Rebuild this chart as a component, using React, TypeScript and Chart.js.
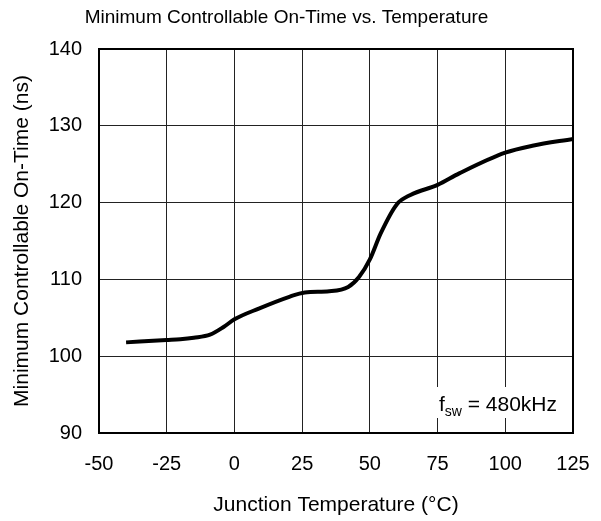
import React, { useEffect, useRef } from "react";
import { Chart, registerables } from "chart.js";

Chart.register(...registerables);

const temperatures = [-40, -25, -20, -15, -9, -4, 0, 9, 20, 26, 35, 42, 46, 50, 54, 60, 65, 75, 83, 100, 110, 125];
const onTimeNs = [101.8, 102.1, 102.2, 102.4, 102.8, 103.8, 104.8, 106.2, 107.7, 108.3, 108.45, 109.0, 110.3, 112.6, 116.0, 119.8, 121.0, 122.3, 123.8, 126.5, 127.4, 128.3];
const xTicks = [-50, -25, 0, 25, 50, 75, 100, 125];
const yTicks = [90, 100, 110, 120, 130, 140];
const titleText = "Minimum Controllable On-Time vs. Temperature";
const xTitle = "Junction Temperature (°C)";
const yTitle = "Minimum Controllable On-Time (ns)";
const noteMain = "f";
const noteSub = "sw";
const noteRest = " = 480kHz";

const FONT = "'Liberation Sans', Arial, sans-serif";

const framePlugin = {
  id: "frame",
  afterDatasetsDraw(chart: any) {
    const { ctx, chartArea } = chart;
    ctx.save();
    ctx.strokeStyle = "#000";
    ctx.lineWidth = 2;
    ctx.strokeRect(chartArea.left, chartArea.top, chartArea.right - chartArea.left, chartArea.bottom - chartArea.top);
    ctx.restore();
  },
};

const notePlugin = {
  id: "note",
  afterDraw(chart: any) {
    const { ctx, chartArea } = chart;
    ctx.save();
    const big = `21px ${FONT}`;
    const small = `14px ${FONT}`;
    ctx.font = big;
    const wMain = ctx.measureText(noteMain).width;
    const wRest = ctx.measureText(noteRest).width;
    ctx.font = small;
    const wSub = ctx.measureText(noteSub).width;
    const total = wMain + wSub + wRest;
    const right = chartArea.right - 16;
    const left = right - total;
    const baseline = chartArea.bottom - 22;
    ctx.fillStyle = "#fff";
    ctx.fillRect(left - 6, baseline - 24, total + 11, 31);
    ctx.fillStyle = "#000";
    ctx.textBaseline = "alphabetic";
    ctx.textAlign = "left";
    ctx.font = big;
    ctx.fillText(noteMain, left, baseline);
    ctx.font = small;
    ctx.fillText(noteSub, left + wMain, baseline + 4.5);
    ctx.font = big;
    ctx.fillText(noteRest, left + wMain + wSub, baseline);
    ctx.restore();
  },
};

export default function App() {
  const ref = useRef<HTMLCanvasElement>(null);
  useEffect(() => {
    document.body.style.margin = "0";
    const chart = new Chart(ref.current!, {
      type: "line",
      data: {
        datasets: [
          {
            data: temperatures.map((t, i) => ({ x: t, y: onTimeNs[i] })),
            borderColor: "#000",
            borderWidth: 4,
            pointRadius: 0,
            cubicInterpolationMode: "monotone",
            fill: false,
          },
        ],
      },
      options: {
        animation: false,
        responsive: false,
        layout: { padding: { left: 0, right: 28, top: 0, bottom: 0 } },
        plugins: {
          legend: { display: false },
          tooltip: { enabled: false },
          title: {
            display: true,
            text: titleText,
            color: "#000",
            font: { family: FONT, size: 19, weight: "normal" },
            padding: { top: 6, bottom: 20.2 },
          },
        },
        scales: {
          x: {
            type: "linear",
            min: -50,
            max: 125,
            afterBuildTicks: (s: any) => {
              s.ticks = xTicks.map((v) => ({ value: v }));
            },
            afterFit: (s: any) => {
              s.height = 88;
              s.paddingLeft = 0;
              s.paddingRight = 0;
            },
            ticks: {
              color: "#000",
              font: { family: FONT, size: 20 },
              padding: 19,
              maxRotation: 0,
            },
            grid: { color: "#222", lineWidth: 1, drawTicks: false },
            border: { display: false },
            title: {
              display: true,
              text: xTitle,
              color: "#000",
              font: { family: FONT, size: 21 },
              padding: { top: 0, bottom: 3.5 },
            },
          },
          y: {
            type: "linear",
            min: 90,
            max: 140,
            afterBuildTicks: (s: any) => {
              s.ticks = yTicks.map((v) => ({ value: v }));
            },
            afterFit: (s: any) => {
              s.width = 99;
              s.paddingTop = 0;
              s.paddingBottom = 0;
            },
            ticks: {
              color: "#000",
              font: { family: FONT, size: 20 },
              padding: 17,
            },
            grid: { color: "#222", lineWidth: 1, drawTicks: false },
            border: { display: false },
            title: {
              display: true,
              text: yTitle,
              color: "#000",
              font: { family: FONT, size: 21 },
              padding: { top: 9.4, bottom: 0 },
            },
          },
        },
      } as any,
      plugins: [framePlugin, notePlugin],
    });
    return () => chart.destroy();
  }, []);
  return <canvas ref={ref} width={601} height={521} style={{ display: "block" }} />;
}
